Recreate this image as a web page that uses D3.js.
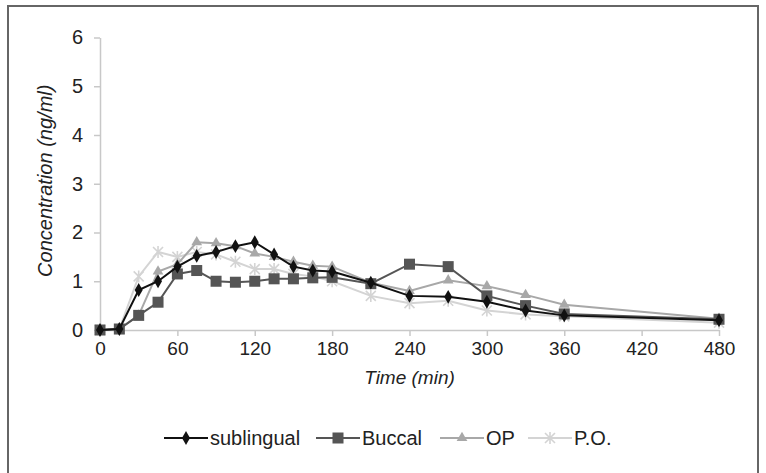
<!DOCTYPE html>
<html>
<head>
<meta charset="utf-8">
<script src="https://cdn.jsdelivr.net/npm/d3@7"></script>
<style>
  body { margin: 0; background: #fff; }
  svg { font-family: "Liberation Sans", Arial, sans-serif; }
</style>
</head>
<body>
<div id="chart"></div>
<script>
// sampling times (min)
const times = [0, 15, 30, 45, 60, 75, 90, 105, 120, 135, 150, 165, 180, 210, 240, 270, 300, 330, 360, 480];

// concentrations (ng/ml)
const sublingual = [0, 0.02, 0.82, 1.0, 1.3, 1.52, 1.6, 1.72, 1.8, 1.55, 1.3, 1.22, 1.2, 0.97, 0.7, 0.68, 0.58, 0.4, 0.3, 0.2];
const buccal = [0, 0.02, 0.3, 0.57, 1.15, 1.22, 1.0, 0.98, 1.0, 1.05, 1.05, 1.07, 1.08, 0.95, 1.35, 1.3, 0.7, 0.5, 0.33, 0.22];
const op = [0, 0.02, 0.3, 1.2, 1.35, 1.8, 1.78, 1.72, 1.57, 1.5, 1.4, 1.32, 1.3, 0.97, 0.8, 1.02, 0.9, 0.72, 0.52, 0.23];
const po = [0, 0.02, 1.1, 1.6, 1.5, 1.6, 1.55, 1.4, 1.25, 1.25, 1.15, 1.1, 1.0, 0.7, 0.55, 0.6, 0.4, 0.32, 0.28, 0.15];

const xTicks = [0, 60, 120, 180, 240, 300, 360, 420, 480];
const yTicks = [0, 1, 2, 3, 4, 5, 6];

const seriesNames = ["sublingual", "Buccal", "OP", "P.O."];
const seriesValues = [sublingual, buccal, op, po];

const colors = ["#111", "#555", "#a8a8a8", "#d4d4d4"];
const markers = ["diamond", "square", "triangle", "star"];

const totalWidth = 766, totalHeight = 473;
const plotLeft = 100, plotRight = 719, plotTop = 37.5, plotBottom = 330;

const svg = d3.select("#chart").append("svg")
  .attr("width", totalWidth)
  .attr("height", totalHeight);

// outer frame
svg.append("path")
  .attr("d", "M8,480 L8,6 L758,6 L758,480")
  .attr("fill", "none")
  .attr("stroke", "#666")
  .attr("stroke-width", 2);

const x = d3.scaleLinear().domain([0, 480]).range([plotLeft, plotRight]);
const y = d3.scaleLinear().domain([0, 6]).range([plotBottom, plotTop]);

// x axis
svg.append("g")
  .attr("transform", "translate(0," + plotBottom + ")")
  .call(d3.axisBottom(x).tickValues(xTicks).tickFormat(d3.format("d")).tickSize(6).tickSizeOuter(0).tickPadding(6))
  .call(g => g.select(".domain").attr("stroke", "#c8c8c8").attr("stroke-width", 1.5))
  .call(g => g.selectAll(".tick line").attr("stroke", "#c8c8c8").attr("stroke-width", 1.5))
  .call(g => g.selectAll("text").attr("font-size", 19).attr("fill", "#222")
    .attr("font-family", "Liberation Sans, Arial, sans-serif"));

// y axis
svg.append("g")
  .attr("transform", "translate(" + plotLeft + ",0)")
  .call(d3.axisLeft(y).tickValues(yTicks).tickFormat(d3.format("d")).tickSize(6).tickSizeOuter(0).tickPadding(11))
  .call(g => g.select(".domain").attr("stroke", "#c8c8c8").attr("stroke-width", 1.5))
  .call(g => g.selectAll(".tick line").attr("stroke", "#c8c8c8").attr("stroke-width", 1.5))
  .call(g => g.selectAll("text").attr("font-size", 20).attr("fill", "#222")
    .attr("font-family", "Liberation Sans, Arial, sans-serif"));

// axis titles
svg.append("text")
  .attr("x", (plotLeft + plotRight) / 2)
  .attr("y", 384)
  .attr("text-anchor", "middle")
  .attr("font-size", 19)
  .attr("font-style", "italic")
  .attr("fill", "#222")
  .text("Time (min)");

svg.append("text")
  .attr("transform", "translate(52," + ((plotTop + plotBottom) / 2 - 3) + ") rotate(-90)")
  .attr("text-anchor", "middle")
  .attr("font-size", 20)
  .attr("font-style", "italic")
  .attr("fill", "#222")
  .text("Concentration (ng/ml)");

function drawMarker(g, type, color) {
  if (type === "diamond") {
    g.append("path").attr("d", d3.symbol(d3.symbolDiamond, 55)()).attr("fill", color);
  } else if (type === "square") {
    g.append("rect").attr("x", -5.5).attr("y", -5.5).attr("width", 11).attr("height", 11).attr("fill", color);
  } else if (type === "triangle") {
    g.append("path").attr("d", d3.symbol(d3.symbolTriangle, 50)()).attr("fill", color);
  } else {
    g.append("path").attr("d", "M-5,-5L5,5M-5,5L5,-5M0,-6L0,6")
      .attr("stroke", color).attr("stroke-width", 1.6).attr("fill", "none");
  }
}

const line = d3.line().x(d => x(d[0])).y(d => y(d[1]));

// draw lightest series first so darker ones sit on top
for (let i = seriesValues.length - 1; i >= 0; i--) {
  const pts = times.map((t, k) => [t, seriesValues[i][k]]);
  const g = svg.append("g");
  g.append("path")
    .datum(pts)
    .attr("d", line)
    .attr("fill", "none")
    .attr("stroke", colors[i])
    .attr("stroke-width", 2);
  g.selectAll(".m")
    .data(pts)
    .enter()
    .append("g")
    .attr("transform", d => "translate(" + x(d[0]) + "," + y(d[1]) + ")")
    .each(function () { drawMarker(d3.select(this), markers[i], colors[i]); });
}

// legend
const legendY = 438;
const legendX = [164, 316, 440, 528];
seriesNames.forEach((name, i) => {
  const g = svg.append("g").attr("transform", "translate(" + legendX[i] + "," + legendY + ")");
  g.append("line").attr("x1", 0).attr("x2", 44).attr("y1", 0).attr("y2", 0)
    .attr("stroke", colors[i]).attr("stroke-width", 2);
  const m = g.append("g").attr("transform", "translate(22,0)");
  drawMarker(m, markers[i], colors[i]);
  g.append("text")
    .attr("x", 46)
    .attr("y", 7)
    .attr("font-size", 20)
    .attr("fill", "#222")
    .text(name);
});
</script>
</body>
</html>
